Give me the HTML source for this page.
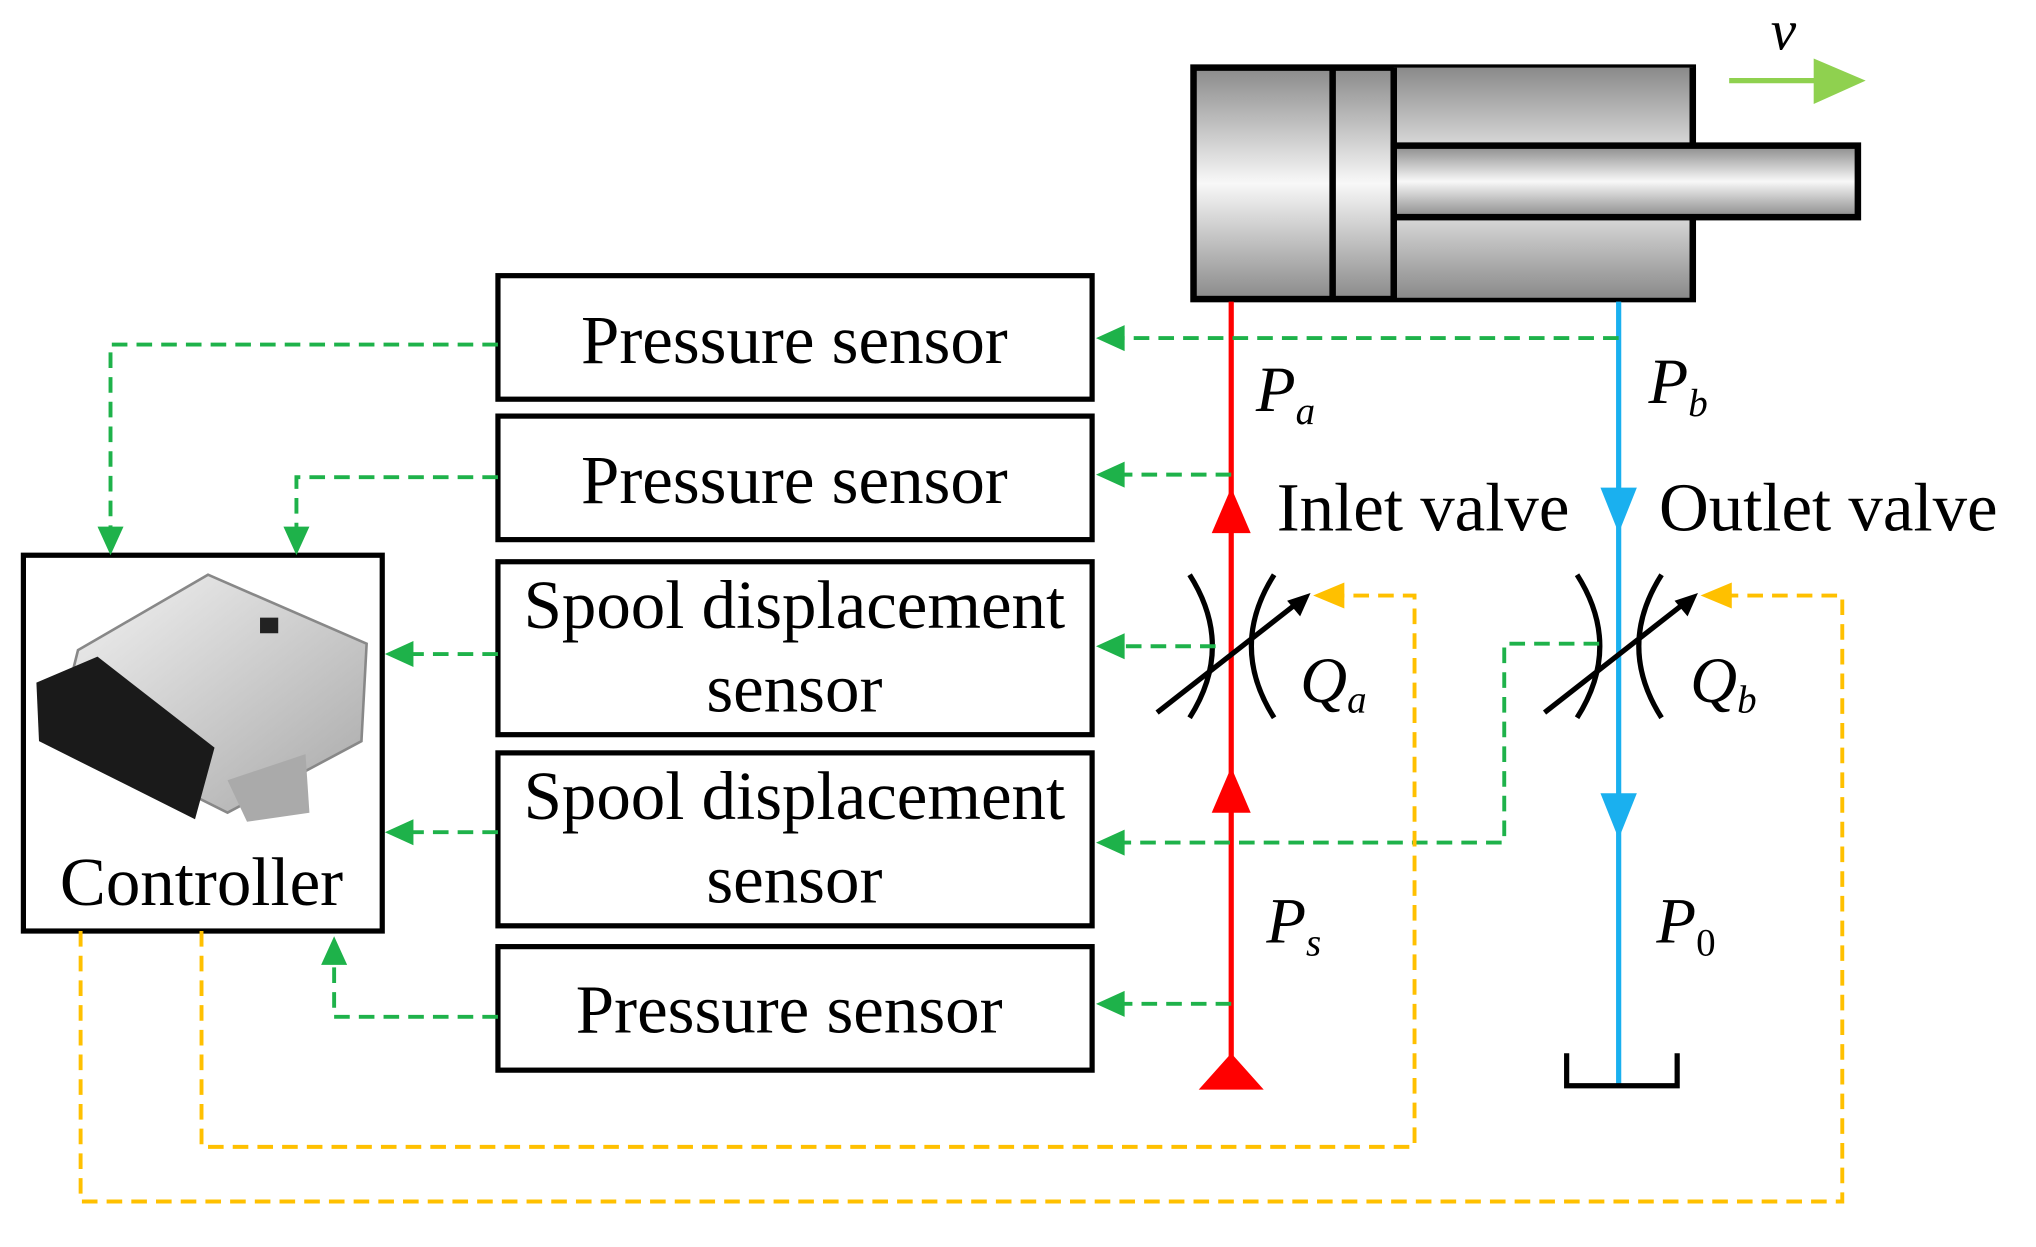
<!DOCTYPE html>
<html><head><meta charset="utf-8"><style>html,body{margin:0;padding:0;background:#fff}svg{display:block}</style></head><body>
<svg width="2036" height="1247" viewBox="0 0 1566 959" preserveAspectRatio="none" xmlns="http://www.w3.org/2000/svg" font-family="Liberation Serif, serif">
<defs>
<linearGradient id="g" x1="0" y1="0" x2="0" y2="1"><stop offset="0" stop-color="#8a8a8a"/><stop offset="0.5" stop-color="#f8f8f8"/><stop offset="1" stop-color="#8a8a8a"/></linearGradient>
<linearGradient id="g2" x1="0" y1="0" x2="0" y2="1"><stop offset="0" stop-color="#8a8a8a"/><stop offset="1" stop-color="#d8d8d8"/></linearGradient>
<linearGradient id="g3" x1="0" y1="0" x2="0" y2="1"><stop offset="0" stop-color="#d8d8d8"/><stop offset="1" stop-color="#8a8a8a"/></linearGradient>
<linearGradient id="ecu" x1="0" y1="0" x2="1" y2="1"><stop offset="0" stop-color="#f4f4f4"/><stop offset="1" stop-color="#a8a8a8"/></linearGradient>
</defs>
<!-- cylinder -->
<rect x="918" y="52" width="384" height="178" fill="url(#g)" stroke="#000" stroke-width="5"/>
<rect x="1072" y="52" width="230" height="60" fill="url(#g2)"/>
<rect x="1072" y="167" width="230" height="62" fill="url(#g3)"/>
<line x1="1302" y1="52" x2="1302" y2="112" stroke="#000" stroke-width="5"/>
<line x1="1302" y1="167" x2="1302" y2="230" stroke="#000" stroke-width="5"/>
<rect x="1072" y="112" width="357" height="55" fill="url(#g)" stroke="#000" stroke-width="5"/>
<line x1="1025" y1="52" x2="1025" y2="230" stroke="#000" stroke-width="5"/>
<line x1="1072" y1="52" x2="1072" y2="230" stroke="#000" stroke-width="5"/>
<!-- v arrow -->
<line x1="1330" y1="62" x2="1400" y2="62" stroke="#8fd14f" stroke-width="4"/>
<polygon points="1395,45 1435,62 1395,80" fill="#8fd14f"/>
<text x="1362" y="38" font-size="44" font-style="italic">v</text>
<!-- red line -->
<line x1="947" y1="232" x2="947" y2="835" stroke="#f00" stroke-width="4"/>
<polygon points="932,410 947,375 962,410" fill="#f00"/>
<polygon points="932,625 947,590 962,625" fill="#f00"/>
<polygon points="922,838 947,810 972,838" fill="#f00"/>
<!-- blue line -->
<line x1="1245" y1="232" x2="1245" y2="835" stroke="#1ab0ef" stroke-width="4"/>
<polygon points="1231,375 1245,410 1259,375" fill="#1ab0ef"/>
<polygon points="1231,610 1245,645 1259,610" fill="#1ab0ef"/>
<polyline points="1205,810 1205,835 1290,835 1290,810" fill="none" stroke="#000" stroke-width="4"/>
<!-- valves -->
<g fill="none" stroke="#000" stroke-width="4">
<path d="M915,442 Q950,497 915,552"/><path d="M980,442 Q945,497 980,552"/>
<line x1="890" y1="548" x2="1000" y2="462"/>
<path d="M1213,442 Q1248,497 1213,552"/><path d="M1278,442 Q1243,497 1278,552"/>
<line x1="1188" y1="548" x2="1298" y2="462"/>
</g>
<polygon points="1008,456 990,462 1000,474" fill="#000"/>
<polygon points="1306,456 1288,462 1298,474" fill="#000"/>
<!-- labels -->
<g font-size="50" font-style="italic">
<text x="966" y="316">P<tspan font-size="30" dy="10">a</tspan></text>
<text x="1268" y="310">P<tspan font-size="30" dy="10">b</tspan></text>
<text x="1000" y="540">Q<tspan font-size="30" dy="8">a</tspan></text>
<text x="1300" y="540">Q<tspan font-size="30" dy="8">b</tspan></text>
<text x="974" y="725">P<tspan font-size="30" dy="10">s</tspan></text>
<text x="1274" y="725">P<tspan font-size="30" dy="10" font-style="normal">0</tspan></text>
</g>
<g font-size="53">
<text x="982" y="408">Inlet valve</text>
<text x="1276" y="408">Outlet valve</text>
</g>
<!-- boxes -->
<g fill="#fff" stroke="#000" stroke-width="4">
<rect x="383" y="212" width="457" height="95"/>
<rect x="383" y="320" width="457" height="95"/>
<rect x="383" y="432" width="457" height="133"/>
<rect x="383" y="579" width="457" height="133"/>
<rect x="383" y="728" width="457" height="95"/>
<rect x="18" y="427" width="276" height="289"/>
</g>
<g font-size="53" text-anchor="middle">
<text x="611" y="279">Pressure sensor</text>
<text x="611" y="387">Pressure sensor</text>
<text x="611" y="483">Spool displacement</text>
<text x="611" y="547">sensor</text>
<text x="611" y="630">Spool displacement</text>
<text x="611" y="694">sensor</text>
<text x="607" y="794">Pressure sensor</text>
<text x="155" y="696">Controller</text>
</g>
<!-- ECU -->
<polygon points="60,500 160,442 282,495 278,570 175,625 45,560" fill="url(#ecu)" stroke="#888" stroke-width="2"/>
<polygon points="28,525 75,505 165,575 150,630 30,570" fill="#1a1a1a"/>
<polygon points="175,600 235,580 238,625 190,632" fill="#aaa"/>
<rect x="200" y="475" width="14" height="12" fill="#222"/>
<!-- green dashed -->
<g fill="none" stroke="#1eb24a" stroke-width="3" stroke-dasharray="12,7">
<polyline points="1245,260 850,260"/>
<polyline points="383,265 85,265 85,412"/>
<polyline points="947,365 850,365"/>
<polyline points="383,367 228,367 228,412"/>
<polyline points="935,497 850,497"/>
<polyline points="383,503 312,503"/>
<polyline points="1230,495 1157,495 1157,648 850,648"/>
<polyline points="383,640 312,640"/>
<polyline points="947,772 850,772"/>
<polyline points="383,782 257,782 257,735"/>
</g>
<g fill="#1eb24a">
<polygon points="843,260 865,250 865,270"/>
<polygon points="75,405 95,405 85,427"/>
<polygon points="843,365 865,355 865,375"/>
<polygon points="218,405 238,405 228,427"/>
<polygon points="843,497 865,487 865,507"/>
<polygon points="296,503 318,493 318,513"/>
<polygon points="843,648 865,638 865,658"/>
<polygon points="296,640 318,630 318,650"/>
<polygon points="843,772 865,762 865,782"/>
<polygon points="247,742 267,742 257,720"/>
</g>
<!-- orange dashed -->
<g fill="none" stroke="#ffc000" stroke-width="3" stroke-dasharray="12,7">
<polyline points="155,716 155,882 1088,882 1088,458 1030,458"/>
<polyline points="62,716 62,924 1417,924 1417,458 1328,458"/>
</g>
<polygon points="1010,458 1034,448 1034,468" fill="#ffc000"/>
<polygon points="1308,458 1332,448 1332,468" fill="#ffc000"/>
</svg>
</body></html>
